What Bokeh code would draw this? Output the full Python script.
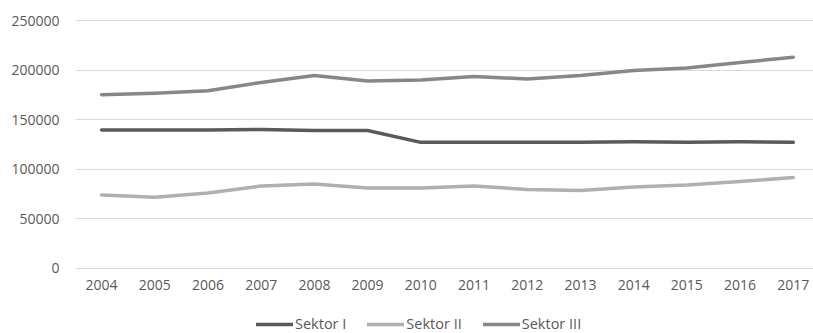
from bokeh.plotting import figure
from bokeh.models import Legend, LegendItem, Range1d, FixedTicker, NumeralTickFormatter
from bokeh.embed import file_html
from bokeh.resources import INLINE

years = [2004, 2005, 2006, 2007, 2008, 2009, 2010, 2011, 2012, 2013, 2014, 2015, 2016, 2017]
sektor_1 = [139500, 139500, 139500, 140000, 139000, 139000, 127000, 127000, 127000, 127000, 127500, 127000, 127500, 127000]
sektor_2 = [74000, 71500, 76000, 83000, 85000, 81000, 81000, 83000, 79500, 78500, 82000, 84000, 87500, 91500]
sektor_3 = [175000, 176500, 179000, 187500, 194500, 189000, 190000, 193500, 191000, 194500, 199500, 202000, 207500, 213000]
y_ticks = [0, 50000, 100000, 150000, 200000, 250000]

FONT = "Open Sans"
TXT = "#595959"

p = figure(frame_width=738, frame_height=328, output_backend="svg", toolbar_location=None,
           x_range=Range1d(2003.51, 2017.38), y_range=Range1d(-65907, 265140),
           min_border_left=75, min_border_right=0, min_border_top=5, min_border_bottom=0)
p.outline_line_color = None
p.background_fill_color = "white"
p.border_fill_color = "white"

series = [("Sektor I", sektor_1, "#5a5a5a"),
          ("Sektor II", sektor_2, "#b0b0b0"),
          ("Sektor III", sektor_3, "#878787")]
items = []
for name, vals, col in series:
    r = p.line(years, vals, line_width=3.5, line_color=col, line_cap="round", line_join="round")
    items.append(LegendItem(label=name, renderers=[r]))

p.xgrid.grid_line_color = None
p.ygrid.grid_line_color = "#d9d9d9"
p.ygrid.grid_line_width = 1
p.yaxis.ticker = FixedTicker(ticks=y_ticks)
p.yaxis.formatter = NumeralTickFormatter(format="0")
p.xaxis.ticker = FixedTicker(ticks=years)
p.xaxis.fixed_location = 0

for ax in (p.xaxis, p.yaxis):
    ax.axis_line_color = None
    ax.major_tick_line_color = None
    ax.minor_tick_line_color = None
    ax.major_tick_out = 0
    ax.major_tick_in = 0
    ax.minor_tick_out = 0
    ax.minor_tick_in = 0
    ax.major_label_text_font = FONT
    ax.major_label_text_font_size = "14px"
    ax.major_label_text_color = TXT
p.yaxis.major_label_standoff = 16
p.xaxis.major_label_standoff = 12

legend = Legend(items=items, orientation="horizontal", location=(181, 0),
                glyph_width=37, glyph_height=16, label_height=16, label_standoff=2, spacing=21,
                padding=0, margin=0, border_line_color=None, background_fill_alpha=0,
                label_text_font=FONT, label_text_font_size="14.5px", label_text_color=TXT)
p.add_layout(legend, "center")

open("out.html", "w").write(file_html(p, INLINE))
